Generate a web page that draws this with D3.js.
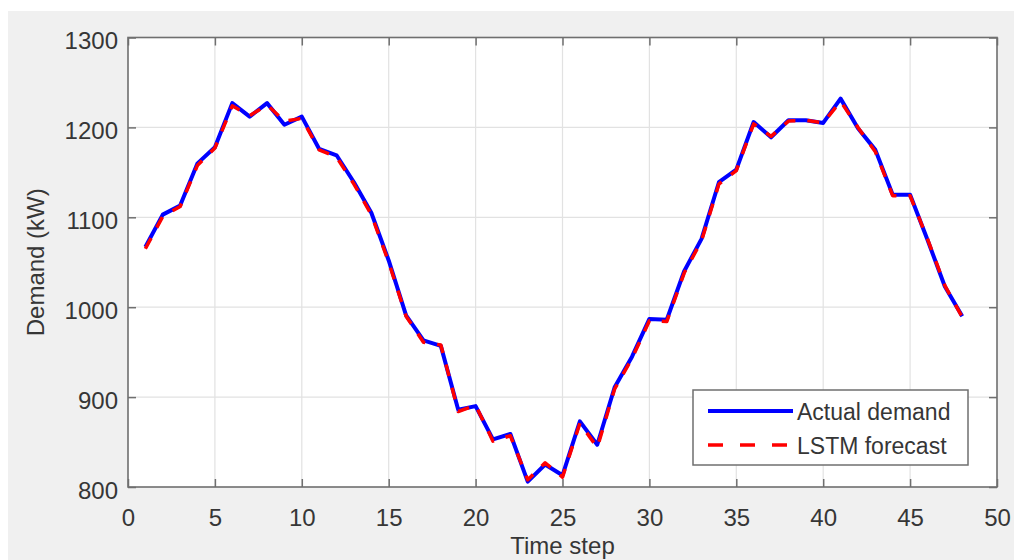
<!DOCTYPE html>
<html>
<head>
<meta charset="utf-8">
<script src="https://cdn.jsdelivr.net/npm/d3@7"></script>
<style>
  html, body { margin: 0; padding: 0; background: #ffffff; }
  svg { display: block; }
  text { font-family: "Liberation Sans", Arial, Helvetica, sans-serif; }
</style>
</head>
<body>
<svg id="chart" width="1014" height="560"></svg>
<script>
// Hourly demand series (time steps 1..48)
const timeSteps = [1,2,3,4,5,6,7,8,9,10,11,12,13,14,15,16,17,18,19,20,21,22,23,24,
                   25,26,27,28,29,30,31,32,33,34,35,36,37,38,39,40,41,42,43,44,45,46,47,48];
const actualDemand = [1067,1103,1113,1160,1178,1227,1212,1227,1203,1212,1176,1169,
                      1139,1105,1052,991,963,957,886,890,853,859,806,825,
                      813,873,847,911,945,987,986,1040,1076,1139,1153,1206,
                      1189,1208,1208,1205,1232,1199,1175,1125,1125,1075,1023,990];
const lstmForecast = [1065,1101,1112,1158,1177,1224,1213,1225,1207,1210,1175,1167,
                      1137,1103,1050,990,961,958,884,891,851,857,808,827,
                      811,871,844,909,943,985,984,1038,1074,1137,1152,1204,
                      1190,1207,1208,1205,1229,1200,1173,1124,1124,1076,1024,989];
const xTicks = [0,5,10,15,20,25,30,35,40,45,50];
const yTicks = [800,900,1000,1100,1200,1300];
const seriesNames = ["Actual demand", "LSTM forecast"];

const svg = d3.select("#chart");
const W = 1014, H = 560;
const plot = { left: 128, top: 37.5, right: 997, bottom: 487 };

// figure background
svg.append("rect").attr("x", 8).attr("y", 11).attr("width", W - 8).attr("height", H - 11)
   .attr("fill", "#f0f0f0");

const x = d3.scaleLinear().domain([0, 50]).range([plot.left, plot.right]);
const y = d3.scaleLinear().domain([800, 1300]).range([plot.bottom, plot.top]);

// axes area
svg.append("rect").attr("x", plot.left).attr("y", plot.top)
   .attr("width", plot.right - plot.left).attr("height", plot.bottom - plot.top)
   .attr("fill", "#ffffff");

// grid
const grid = svg.append("g").attr("stroke", "#e2e2e2").attr("stroke-width", 1.2);
grid.selectAll("line.gx").data(xTicks.slice(1, -1)).join("line")
   .attr("x1", d => x(d)).attr("x2", d => x(d))
   .attr("y1", plot.top).attr("y2", plot.bottom);
grid.selectAll("line.gy").data(yTicks.slice(1, -1)).join("line")
   .attr("y1", d => y(d)).attr("y2", d => y(d))
   .attr("x1", plot.left).attr("x2", plot.right);

// data lines
const clip = svg.append("clipPath").attr("id", "plotClip").append("rect")
   .attr("x", plot.left).attr("y", plot.top - 2)
   .attr("width", plot.right - plot.left).attr("height", plot.bottom - plot.top + 4);

const lineGen = d3.line().x(d => x(d[0])).y(d => y(d[1]));
const lines = svg.append("g").attr("clip-path", "url(#plotClip)");
lines.append("path")
   .datum(timeSteps.map((t, i) => [t, actualDemand[i]]))
   .attr("d", lineGen).attr("fill", "none")
   .attr("stroke", "#0000ff").attr("stroke-width", 4)
   .attr("stroke-linejoin", "round");
lines.append("path")
   .datum(timeSteps.map((t, i) => [t, lstmForecast[i]]))
   .attr("d", lineGen).attr("fill", "none")
   .attr("stroke", "#ff0000").attr("stroke-width", 3.5)
   .attr("stroke-dasharray", "12,12")
   .attr("stroke-linejoin", "round");

// axes with inward ticks on all four sides
const axisColor = "#6f6f6f";
const textColor = "#363636";
function styleAxis(g) {
  g.select(".domain").remove();
  g.selectAll(".tick line").attr("stroke", axisColor).attr("stroke-width", 1.5);
  g.selectAll("text").attr("fill", textColor).style("font-size", "24px");
}
svg.append("g").attr("transform", `translate(0,${plot.bottom})`)
   .call(d3.axisBottom(x).tickValues(xTicks).tickSize(-8).tickPadding(22).tickFormat(d3.format("d")))
   .call(styleAxis);
svg.append("g").attr("transform", `translate(0,${plot.top})`)
   .call(d3.axisTop(x).tickValues(xTicks).tickSize(-8).tickFormat(""))
   .call(styleAxis);
const yAxis = svg.append("g").attr("transform", `translate(${plot.left},0)`)
   .call(d3.axisLeft(y).tickValues(yTicks).tickSize(-8).tickPadding(10).tickFormat(d3.format("d")))
   .call(styleAxis);
yAxis.selectAll("text").attr("dy", "0.46em");
svg.append("g").attr("transform", `translate(${plot.right},0)`)
   .call(d3.axisRight(y).tickValues(yTicks).tickSize(-8).tickFormat(""))
   .call(styleAxis);

// axes box
svg.append("rect").attr("x", plot.left).attr("y", plot.top)
   .attr("width", plot.right - plot.left).attr("height", plot.bottom - plot.top)
   .attr("fill", "none").attr("stroke", axisColor).attr("stroke-width", 1.6);

// axis titles
svg.append("text").attr("x", (plot.left + plot.right) / 2).attr("y", 554)
   .attr("text-anchor", "middle").attr("fill", textColor).style("font-size", "24px")
   .text("Time step");
svg.append("text")
   .attr("transform", `translate(44,${(plot.top + plot.bottom) / 2}) rotate(-90)`)
   .attr("text-anchor", "middle").attr("fill", textColor).style("font-size", "24px")
   .text("Demand (kW)");

// legend
const lg = svg.append("g");
lg.append("rect").attr("x", 693).attr("y", 390).attr("width", 275).attr("height", 75)
   .attr("fill", "#ffffff").attr("stroke", axisColor).attr("stroke-width", 1.5);
const legendItems = [
  { name: seriesNames[0], color: "#0000ff", dash: null, width: 4, y: 411 },
  { name: seriesNames[1], color: "#ff0000", dash: "15,17", width: 3.5, y: 445 }
];
legendItems.forEach(it => {
  lg.append("line").attr("x1", 708).attr("x2", 793).attr("y1", it.y).attr("y2", it.y)
    .attr("stroke", it.color).attr("stroke-width", it.width)
    .attr("stroke-dasharray", it.dash);
  lg.append("text").attr("x", 797).attr("y", it.y + 8.5)
    .attr("fill", textColor).style("font-size", "23px").text(it.name);
});
</script>
</body>
</html>
